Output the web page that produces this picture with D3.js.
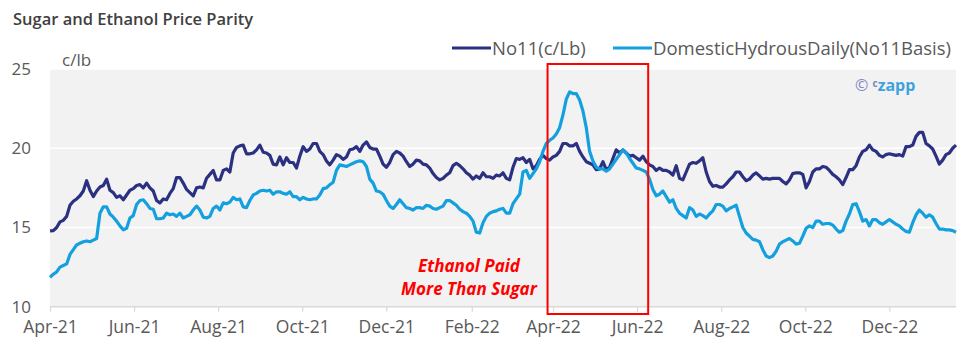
<!DOCTYPE html>
<html><head><meta charset="utf-8">
<script src="https://cdn.jsdelivr.net/npm/d3@7"></script>
<style>
body{margin:0;background:#fff;}
svg{display:block;font-family:"Open Sans",sans-serif;}
</style>
</head><body>
<svg id="chart" width="967" height="359"></svg>
<script>
// ---- data ----
const startDate = "2021-04-01";
const stepDays = 2.4167; // evenly spaced samples
const seriesNames = ["No11(c/Lb)", "DomesticHydrousDaily(No11Basis)"];
const no11 = [
14.78,14.8,15.0,15.35,15.45,15.7,16.4,16.65,16.8,17.0,17.3,17.95,17.35,16.95,17.3,17.55,17.65,18.05,17.35,17.2,
16.9,17.0,16.75,17.05,17.35,17.45,17.65,17.7,17.5,17.8,17.5,17.3,16.7,16.55,16.8,16.75,17.15,17.45,18.15,18.15,
17.8,17.4,17.2,17.0,17.5,17.55,
17.5,18.1,18.35,18.6,18.0,18.0,18.6,18.7,18.5,19.7,20.05,20.15,20.2,19.65,19.65,19.7,19.9,20.2,19.75,19.7,
19.55,19.0,18.95,19.45,18.95,19.4,19.1,19.1,18.75,19.5,20.1,19.8,19.95,20.3,20.3,19.8,19.6,19.2,18.95,19.25,
19.6,19.5,19.3,19.45,19.9,19.95,
20.1,19.8,20.2,20.4,20.05,19.95,19.95,19.5,19.0,18.8,19.1,19.6,19.8,19.7,19.5,19.15,18.85,19.0,19.25,19.2,
19.0,18.95,18.75,18.4,18.15,18.0,18.1,18.3,18.45,18.9,19.05,18.9,18.7,18.45,18.3,18.05,18.25,18.1,18.45,18.2,
18.2,18.1,18.3,18.25,18.45,
18.1,18.0,18.8,19.35,19.3,19.4,19.1,19.3,18.7,18.9,19.3,19.55,19.35,19.25,19.45,19.55,19.8,20.3,20.3,20.15,
20.15,20.3,19.8,19.45,19.15,19.05,18.95,18.65,18.7,19.15,18.65,18.8,19.35,19.9,19.7,19.9,19.7,19.5,19.55,19.4,
19.25,19.5,19.15,18.95,18.85,
18.6,18.75,18.6,18.6,18.5,18.3,18.9,18.1,18.0,18.5,19.0,19.1,19.05,19.2,19.4,18.5,17.9,17.6,17.65,17.55,
17.55,17.75,18.0,18.2,18.5,18.5,18.2,17.95,18.05,18.3,18.45,18.25,18.05,18.1,18.05,18.1,18.1,18.1,17.9,17.75,
18.0,18.4,18.45,18.45,18.35,
17.5,17.9,18.5,18.7,18.7,18.85,18.8,18.6,18.35,18.2,18.0,17.7,18.15,18.65,18.65,18.9,19.45,19.8,19.9,20.2,
19.9,19.8,19.55,19.45,19.6,19.65,19.6,19.55,19.6,19.5,20.1,20.1,20.2,20.75,21.0,21.0,20.3,20.15,19.95,19.5,
19.0,19.25,19.6,19.7,20.0,20.2
];
const hydrous = [
11.85,12.05,12.2,12.5,12.6,12.7,13.3,13.6,13.9,14.0,14.1,14.15,14.1,14.2,14.3,15.9,16.3,16.3,15.85,15.65,
15.4,15.1,14.85,14.95,15.6,15.75,16.45,16.7,16.75,16.5,16.2,16.15,15.55,15.55,15.6,15.9,15.8,15.85,15.7,15.9,
15.6,15.7,15.8,16.1,16.35,16.1,
15.65,15.6,15.7,16.2,16.35,16.1,16.55,16.5,16.6,16.9,16.75,16.8,16.3,16.25,16.7,17.05,17.15,17.3,17.35,17.3,
17.35,17.1,17.25,17.25,17.15,17.1,17.25,16.95,16.95,16.75,16.9,16.8,16.75,16.8,16.8,17.05,17.45,17.5,17.7,17.85,
18.6,18.95,18.9,18.85,18.95,19.05,
19.15,19.2,19.15,18.85,18.05,17.8,17.3,17.25,17.1,16.7,16.35,16.2,16.45,16.75,16.5,16.25,16.2,16.1,16.25,
16.25,16.2,16.4,16.35,16.2,16.15,16.25,16.35,16.7,16.7,16.55,16.4,16.15,16.0,15.9,15.7,15.4,14.7,14.65,15.3,
15.7,15.9,16.0,16.05,16.15,16.2,
15.9,15.9,16.5,16.8,17.1,18.5,18.6,18.1,18.4,18.7,19.15,19.8,20.3,20.5,20.65,20.9,21.3,22.1,23.1,23.55,
23.45,23.45,23.05,22.35,21.3,19.8,19.2,18.8,18.7,18.7,18.55,18.7,19.0,19.3,19.6,19.9,19.7,19.35,19.05,18.75,
18.7,18.6,18.5,18.05,17.4,
17.0,17.1,17.3,16.95,16.6,16.75,16.2,15.9,15.75,15.6,16.25,16.1,15.7,15.85,15.75,15.6,15.85,16.05,16.45,16.45,
16.35,16.05,16.2,16.3,16.4,15.7,15.0,14.65,14.45,14.25,14.2,14.1,13.6,13.2,13.1,13.2,13.5,13.95,14.1,14.2,
14.3,14.15,13.95,14.0,14.45,
14.95,15.1,15.0,15.4,15.4,15.2,15.25,15.25,15.15,14.9,14.7,14.8,15.4,15.85,16.45,16.5,16.0,15.4,15.5,15.1,
15.5,15.5,15.3,15.2,15.35,15.5,15.35,15.2,15.1,14.9,14.75,14.7,15.3,15.8,16.1,15.9,15.65,15.8,15.65,15.25,
14.9,14.9,14.85,14.85,14.8,14.7
];
const tickMonths = ["2021-04-01","2021-06-01","2021-08-01","2021-10-01","2021-12-01","2022-02-01",
                    "2022-04-01","2022-06-01","2022-08-01","2022-10-01","2022-12-01"];
const yTicks = [10, 15, 20, 25];
const yGrid = [15, 20, 25];
const highlight = ["2022-03-28", "2022-06-09"]; // red box period
const annotation = ["Ethanol Paid", "More Than Sugar"];

// ---- chart ----
const parse = d3.timeParse("%Y-%m-%d");
const start = parse(startDate);
const dates = no11.map((_, i) => new Date(start.getTime() + i * stepDays * 864e5));
const svg = d3.select("#chart");
const L = 50, R = 956, T = 69, B = 306.7;
const x = d3.scaleTime().domain([start, dates[dates.length - 1]]).range([L, R]);
const y = d3.scaleLinear().domain([10, 25]).range([B, T]);
const navy = "#2b3180", cyan = "#14a0de";

svg.append("text").attr("x", 13).attr("y", 25).text("Sugar and Ethanol Price Parity")
  .attr("font-size", 16.5).attr("font-weight", 600).attr("fill", "#404040");

svg.append("rect").attr("x", L).attr("y", T).attr("width", R - L).attr("height", B - T).attr("fill", "#f2f2f2");

svg.append("g").selectAll("line").data(yGrid).join("line")
  .attr("x1", L).attr("x2", R).attr("y1", d => y(d)).attr("y2", d => y(d))
  .attr("stroke", "#ffffff").attr("stroke-width", 1.5);

// y axis labels
svg.append("g").selectAll("text").data(yTicks).join("text")
  .attr("x", 31).attr("y", d => y(d) + 6).attr("text-anchor", "end")
  .attr("font-size", 17).attr("fill", "#595959").text(d => d);
svg.append("text").attr("x", 62).attr("y", 66).text("c/lb").attr("font-size", 17).attr("fill", "#595959");

// x axis
const xAxis = d3.axisBottom(x).tickValues(tickMonths.map(parse)).tickFormat(d3.timeFormat("%b-%y")).tickSize(5).tickPadding(9);
const gx = svg.append("g").attr("transform", `translate(0,${B})`).call(xAxis);
gx.select(".domain").attr("stroke", "#d9d9d9").attr("stroke-width", 1.5).attr("d", `M${L},0H${R}`);
gx.selectAll(".tick line").attr("stroke", "#d9d9d9").attr("stroke-width", 1.2);
gx.selectAll(".tick text").attr("font-size", 17.5).attr("fill", "#595959").attr("font-family", "Open Sans");

// lines
const line = vals => d3.line().x((d, i) => x(dates[i])).y(d => y(d))(vals);
svg.append("path").attr("d", line(no11)).attr("fill", "none").attr("stroke", navy).attr("stroke-width", 3.2).attr("stroke-linejoin", "round");
svg.append("path").attr("d", line(hydrous)).attr("fill", "none").attr("stroke", cyan).attr("stroke-width", 3.2).attr("stroke-linejoin", "round");

// highlight box
const hx0 = x(parse(highlight[0])), hx1 = x(parse(highlight[1]));
svg.append("rect").attr("x", hx0).attr("y", 64).attr("width", hx1 - hx0).attr("height", 250)
  .attr("fill", "none").attr("stroke", "#ff0000").attr("stroke-width", 2);

// annotation
svg.append("g").selectAll("text").data(annotation).join("text")
  .attr("x", 469).attr("y", (d, i) => 272 + i * 23).attr("text-anchor", "middle")
  .attr("font-size", 17).attr("font-weight", 700).attr("font-style", "italic").attr("fill", "#ff0000").text(d => d);

// legend
const legend = [{x: 452, c: navy, n: seriesNames[0]}, {x: 613, c: cyan, n: seriesNames[1]}];
const lg = svg.append("g").selectAll("g").data(legend).join("g");
lg.append("line").attr("x1", d => d.x).attr("x2", d => d.x + 39).attr("y1", 48).attr("y2", 48)
  .attr("stroke", d => d.c).attr("stroke-width", 3);
lg.append("text").attr("x", d => d.x + 40).attr("y", 55).attr("font-size", 18.5).attr("fill", "#595959").text(d => d.n);

// watermark
const wm = svg.append("text").attr("x", 855).attr("y", 91);
wm.append("tspan").text("© ").attr("font-size", 16).attr("fill", "#7f85bf");
wm.append("tspan").text("c").attr("font-size", 10).attr("dy", -4).attr("fill", "#7f85bf").attr("font-weight", 700);
wm.append("tspan").text("zapp").attr("font-size", 16).attr("dy", 4).attr("fill", "#3ea3dd").attr("font-weight", 700);
</script>
</body></html>
